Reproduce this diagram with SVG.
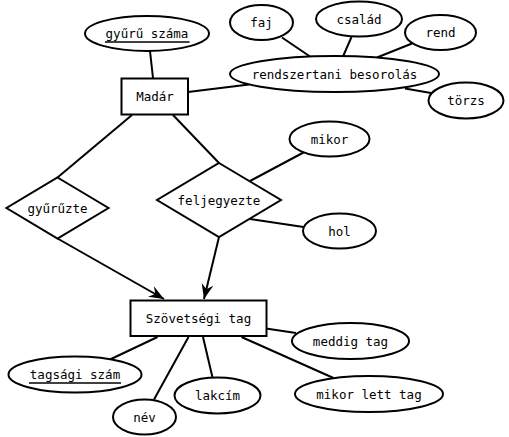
<svg xmlns="http://www.w3.org/2000/svg" width="509" height="437" viewBox="0 0 509 437">
<style>
.s{fill:#fff;stroke:#000;stroke-width:2}
.l{stroke:#000;stroke-width:2;fill:none}
text{font-family:"DejaVu Sans Mono",monospace;font-size:12.5px;text-anchor:middle;fill:#000}
</style>
<defs>
<marker id="arr" markerUnits="userSpaceOnUse" viewBox="-15 -7 16 14" refX="0" refY="0" markerWidth="16" markerHeight="14" orient="auto">
<path d="M0,0 L-15,-6 L-10,0 L-15,6 Z" fill="#000"/>
</marker>
</defs>
<rect width="509" height="437" fill="#fff"/>
<g id="connectors">
<line class="l" x1="150" y1="51" x2="153" y2="78"/>
<line class="l" x1="188" y1="92" x2="249" y2="84.5"/>
<line class="l" x1="282" y1="37.5" x2="310" y2="56.5"/>
<line class="l" x1="351.5" y1="37" x2="343" y2="56.5"/>
<line class="l" x1="412" y1="43.5" x2="377" y2="57.5"/>
<line class="l" x1="405" y1="88.5" x2="431" y2="93"/>
<line class="l" x1="132" y1="115" x2="57.5" y2="177.5"/>
<line class="l" x1="173" y1="115" x2="219" y2="163"/>
<line class="l" x1="250" y1="181" x2="303.5" y2="152.5"/>
<line class="l" x1="250" y1="219" x2="303.5" y2="227"/>
<line class="l" x1="57.5" y1="238.5" x2="164" y2="299" marker-end="url(#arr)"/>
<line class="l" x1="219" y1="237" x2="204" y2="299" marker-end="url(#arr)"/>
<line class="l" x1="266" y1="328.5" x2="296" y2="333"/>
<line class="l" x1="241.5" y1="337" x2="333.5" y2="378"/>
<line class="l" x1="157.5" y1="337" x2="110" y2="359.5"/>
<line class="l" x1="188.5" y1="337" x2="154" y2="399.5"/>
<line class="l" x1="203" y1="337" x2="212.5" y2="377.5"/>
</g>
<g id="madar"><rect class="s" x="121.5" y="78.5" width="66.5" height="36"/><text x="155" y="101">Madár</text></g>
<g id="gyuru-szama"><ellipse class="s" cx="147" cy="33.5" rx="62" ry="17.5"/><text x="147" y="38">gyűrű száma</text><line x1="105" y1="42" x2="189.5" y2="42" stroke="#000" stroke-width="1.5"/></g>
<g id="faj"><ellipse class="s" cx="261.5" cy="22.5" rx="31.5" ry="17.5"/><text x="261.5" y="27">faj</text></g>
<g id="csalad"><ellipse class="s" cx="359" cy="19" rx="43" ry="17.5"/><text x="359" y="23.5">család</text></g>
<g id="rend"><ellipse class="s" cx="440.5" cy="32.5" rx="35.5" ry="17.5"/><text x="440.5" y="37">rend</text></g>
<g id="rendszertani"><ellipse class="s" cx="334.5" cy="74" rx="104.5" ry="18"/><text x="334.5" y="78.5">rendszertani besorolás</text></g>
<g id="torzs"><ellipse class="s" cx="466" cy="100.5" rx="37.5" ry="18"/><text x="466" y="105">törzs</text></g>
<g id="gyuruzte"><polygon class="s" points="57.5,177.5 108.5,208 57.5,238.5 6.5,208"/><text x="57.5" y="212.5">gyűrűzte</text></g>
<g id="feljegyezte"><polygon class="s" points="219,163 281,200 219,237 157,200"/><text x="219" y="204.5">feljegyezte</text></g>
<g id="mikor"><ellipse class="s" cx="329.5" cy="139" rx="40" ry="17.5"/><text x="329.5" y="143.5">mikor</text></g>
<g id="hol"><ellipse class="s" cx="339.5" cy="231" rx="36.5" ry="17.5"/><text x="339.5" y="235.5">hol</text></g>
<g id="szovetsegi-tag"><rect class="s" x="130.5" y="300.5" width="136" height="35.5"/><text x="198.5" y="322.5">Szövetségi tag</text></g>
<g id="meddig-tag"><ellipse class="s" cx="350.5" cy="341" rx="58.5" ry="18"/><text x="350.5" y="345.5">meddig tag</text></g>
<g id="mikor-lett-tag"><ellipse class="s" cx="369" cy="394" rx="74" ry="18"/><text x="369" y="398.5">mikor lett tag</text></g>
<g id="tagsagi-szam"><ellipse class="s" cx="75" cy="374.5" rx="66.5" ry="18"/><text x="75" y="379">tagsági szám</text><line x1="29" y1="383" x2="121" y2="383" stroke="#000" stroke-width="1.5"/></g>
<g id="nev"><ellipse class="s" cx="144.5" cy="417" rx="31.5" ry="17.5"/><text x="144.5" y="421.5">név</text></g>
<g id="lakcim"><ellipse class="s" cx="217.5" cy="395.5" rx="43" ry="18"/><text x="217.5" y="400">lakcím</text></g>
</svg>
